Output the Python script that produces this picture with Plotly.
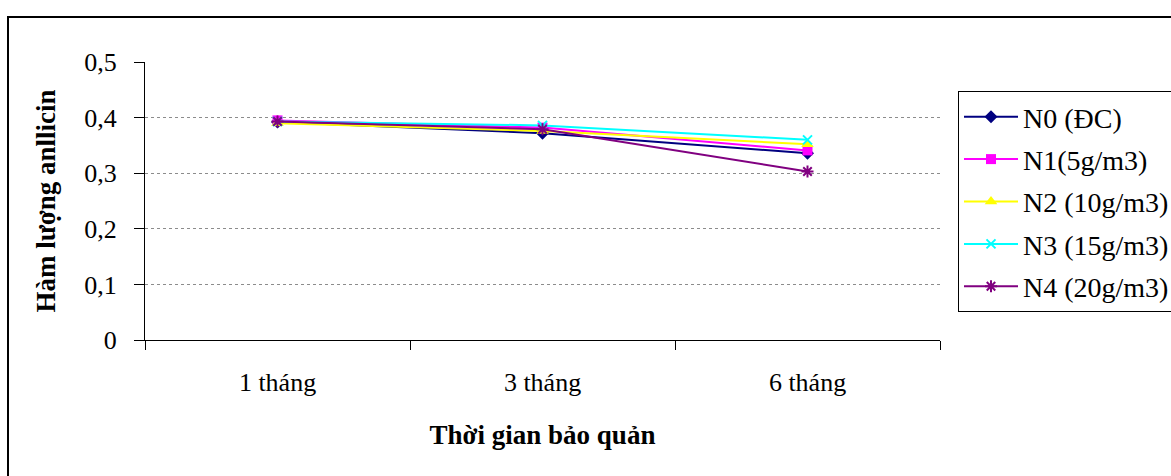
import plotly.graph_objects as go

categories = ["1 tháng", "3 tháng", "6 tháng"]
series_names = ["N0 (ĐC)", "N1(5g/m3)", "N2 (10g/m3)", "N3 (15g/m3)", "N4 (20g/m3)"]
n0 = [0.392, 0.372, 0.336]
n1 = [0.395, 0.382, 0.341]
n2 = [0.390, 0.376, 0.352]
n3 = [0.393, 0.386, 0.360]
n4 = [0.393, 0.379, 0.303]
y_tickvals = [0, 0.1, 0.2, 0.3, 0.4, 0.5]
y_ticktext = ["0", "0,1", "0,2", "0,3", "0,4", "0,5"]

colors = ["#000080", "#FF00FF", "#FFFF00", "#00FFFF", "#800080"]
symbols = ["diamond", "square", "triangle-up", "x-thin", "asterisk"]
sizes = [10, 10, 11, 9, 10]
values = [n0, n1, n2, n3, n4]

FONT = "Liberation Serif, Times New Roman, serif"

fig = go.Figure()
for i, (name, vals) in enumerate(zip(series_names, values)):
    open_marker = symbols[i] in ("x-thin", "asterisk")
    fig.add_trace(go.Scatter(
        x=categories, y=vals, name=name, mode="lines+markers",
        legendgroup=f"g{i}",
        line=dict(color=colors[i], width=2),
        marker=dict(symbol=symbols[i], size=sizes[i], color=colors[i],
                    line=dict(color=colors[i], width=2 if open_marker else 0)),
    ))

W, H = 1171, 476
L, R, T, B = 145, 231, 62, 136
pw, ph = W - L - R, H - T - B

def px_x(x):
    return (x - L) / pw

def px_y(y):
    return (H - B - y) / ph

fig.add_shape(type="rect", xref="paper", yref="paper",
              x0=px_x(8), x1=px_x(1180), y0=px_y(485), y1=px_y(17),
              line=dict(color="black", width=2), fillcolor="rgba(0,0,0,0)", layer="below")

fig.update_layout(
    width=W, height=H,
    margin=dict(l=L, r=R, t=T, b=B, autoexpand=False),
    paper_bgcolor="white", plot_bgcolor="white",
    font=dict(family=FONT, size=26, color="black"),
    showlegend=True,
    legend=dict(x=px_x(958), y=px_y(91), xanchor="left", yanchor="top",
                bordercolor="black", borderwidth=1, bgcolor="white",
                font=dict(family=FONT, size=28, color="black"),
                tracegroupgap=3, itemwidth=54),
    xaxis=dict(
        type="category", tickson="boundaries", ticks="outside", ticklen=9,
        tickcolor="black", tickwidth=1, showline=True, linecolor="black", linewidth=1,
        showgrid=False, range=[-0.5, 2.5], ticklabelstandoff=19,
        tickfont=dict(family=FONT, size=26),
        title=dict(text="<b>Thời gian bảo quản</b>", font=dict(family=FONT, size=27), standoff=28),
    ),
    yaxis=dict(
        range=[0, 0.5], tickvals=y_tickvals, ticktext=y_ticktext,
        ticks="outside", ticklen=10, tickcolor="black", tickwidth=1,
        showline=True, linecolor="black", linewidth=1,
        showgrid=True, gridcolor="#8c8c8c", griddash="dot", gridwidth=1,
        zeroline=False, ticklabelstandoff=12,
        tickfont=dict(family=FONT, size=26),
        title=dict(text="<b>Hàm lượng anllicin</b>", font=dict(family=FONT, size=27), standoff=20),
    ),
)

fig.write_html("out.html")
